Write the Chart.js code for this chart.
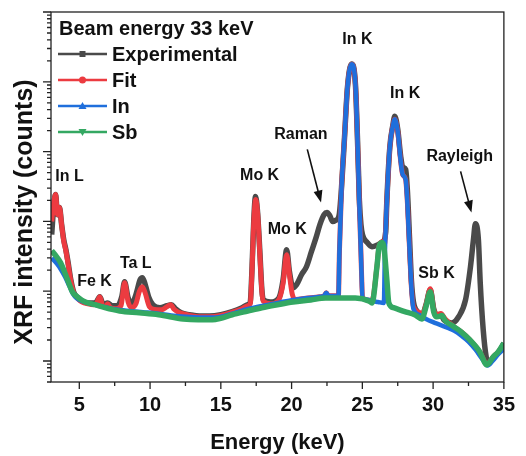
<!DOCTYPE html>
<html><head><meta charset="utf-8">
<script src="https://cdn.jsdelivr.net/npm/chart.js@4.4.1/dist/chart.umd.min.js"></script>
<style>html,body{margin:0;padding:0;background:#fff;}</style>
</head><body>
<canvas id="c" width="526" height="456"></canvas>
<script>
// ---- data (x in keV, y in counts) ----
const expX = [3.05,3.2,3.33,3.45,3.6,3.75,3.9,4.05,4.2,4.4,4.6,4.9,5.2,5.6,6.0,6.2,6.45,6.7,7.0,7.3,7.7,8.0,8.2,8.45,8.7,9.0,9.3,9.45,9.6,9.9,10.2,10.7,11.2,11.5,11.8,12.2,12.8,13.5,14.2,15.0,15.8,16.5,16.9,17.08,17.2,17.33,17.45,17.58,17.75,17.9,18.0,18.5,19.1,19.4,19.65,19.85,20.1,20.35,20.7,21.05,21.4,21.75,22.0,22.3,22.5,22.7,22.9,23.1,23.3,23.38,23.53,23.74,23.95,24.24,24.51,24.65,24.79,24.9,25.01,25.35,25.68,26.1,26.45,26.65,26.73,26.94,27.15,27.29,27.5,27.71,27.85,28.06,28.19,28.33,28.47,28.61,28.8,29.2,29.5,29.8,30.05,30.28,30.55,30.76,31.32,31.8,32.29,32.64,32.85,32.99,33.2,33.33,33.54,33.75,33.89,34.3,34.65,35.0];
const expY = [646,1740,2430,1250,1580,900,548,394,264,146,98,80,72,68,68,70,83,64,68,62,62,83,136,80,66,89,146,156,136,83,64,58,62,64,56,49,46,44,44,46,51,58,64,70,203,1060,2270,1480,394,105,75,70,80,146,394,190,112,124,172,224,368,605,900,1253,1337,1210,994,1030,1120,1300,3100,16000,84000,180000,93000,16500,2000,900,646,496,435,464,513,700,1950,11500,23500,32000,21000,8500,6000,5550,2600,600,140,70,54,45,64,105,55,46,46,39,35,43,75,224,548,929,548,132,28,11.4,9.4,11.5,13.5,18];

const fitX = [3.05,3.2,3.33,3.45,3.6,3.75,3.9,4.05,4.2,4.4,4.6,4.9,5.2,5.6,6.0,6.2,6.45,6.65,6.85,7.0,7.2,7.6,7.95,8.2,8.45,8.7,9.0,9.25,9.45,9.65,9.95,10.3,10.8,11.2,11.45,11.7,12.0,12.8,13.5,14.2,15.0,15.8,16.5,16.9,17.08,17.2,17.33,17.47,17.6,17.75,17.9,18.0,18.5,19.1,19.4,19.65,19.85,20.05,20.3,21.0,22.0,22.3,22.45,22.6,23.31,23.38,23.53,23.74,23.95,24.24,24.51,24.65,24.79,24.94,25.01,25.68,26.03,26.18,26.39,26.52,26.59,26.73,26.94,27.15,27.29,27.5,27.71,27.85,28.06,28.19,28.33,28.47,28.61,29.0,29.2,29.5,29.8,30.05,30.25,30.55,30.85,31.46,32.0,32.6,33.3,33.8,34.24,34.6,35.0];
const fitY = [1000,1900,2430,1250,1580,900,520,380,250,140,95,78,70,66,64,66,83,62,60,66,58,56,62,132,70,58,66,100,116,95,60,55,54,60,64,55,50,45,43,43,45,50,56,62,66,190,1000,2056,1300,360,100,72,66,76,130,333,170,90,76,79,83,86,95,86,86,368,3060,16000,83500,179000,92500,16000,1742,190,80,74,224,435,510,450,500,1950,11500,23000,29000,19500,7230,4700,3980,1742,420,112,60,50,44,64,108,54,46,48,40,31,26,20,13.5,9,11.4,13.5,17];

const inX = [3.05,3.4,3.7,4.0,4.3,4.55,4.8,5.2,5.8,6.5,7.5,8.5,9.5,10.5,11.5,12.5,13.5,14.5,15.2,16.0,17.0,18.0,19.0,20.0,21.0,22.0,22.3,22.45,22.6,23.0,23.31,23.38,23.53,23.74,23.95,24.24,24.51,24.65,24.79,24.94,25.01,25.3,25.7,26.1,26.52,26.59,26.73,26.94,27.15,27.29,27.5,27.71,27.85,28.06,28.19,28.33,28.47,28.61,29.0,29.5,30.0,30.5,31.0,31.5,32.0,32.5,33.0,33.5,33.85,34.2,34.6,35.0];
const inY = [300,250,205,160,118,92,80,72,66,61,55,52,50,48,45,43,42,42,44,49,56,62,68,74,79,83,86,95,86,85,85,368,3060,16000,83500,179000,92500,16000,1742,190,78,76,72,70,68,333,1923,11500,23000,29000,19500,7230,4700,3980,1742,420,112,56,46,40,36,33,30,27,23,19,14.5,10.5,8.6,10,12.5,15];

const sbX = [3.05,3.3,3.68,4.17,4.51,4.86,5.42,6.11,6.81,7.85,9.24,10.6,12.35,13.4,14.4,15.0,15.8,16.9,17.9,19.0,20.1,21.35,22.4,23.4,24.5,25.5,25.68,26.03,26.18,26.39,26.52,26.73,26.87,27.2,28.0,28.7,29.2,29.5,29.8,30.05,30.25,30.5,30.62,30.85,31.46,32.0,32.6,33.3,33.8,34.24,34.6,35.0];
const sbY = [380,330,256,146,98,83,70,64,58,52,49,46,40,39,39,41,46,52,58,64,70,75,80,80,80,72,68,224,435,500,435,146,68,58,51,46,40,60,98,50,43,44,45,38,31,26,20,13.5,8.8,11.4,13.5,18];

const seriesNames = ['Experimental','Fit','In','Sb'];
const seriesColors = ['#4a4a4a','#ec3b40','#1f6fdc','#34a862'];
const legendTitle = 'Beam energy 33 keV';
const xTitle = 'Energy (keV)';
const yTitle = 'XRF intensity (counts)';
const xTickLabels = [5,10,15,20,25,30,35];
const annoText = ['In L','Fe K','Ta L','Mo K','Mo K','Raman','In K','In K','Rayleigh','Sb K'];
const annoX = [4.31,6.08,8.99,17.74,19.69,20.66,24.65,28.02,31.88,30.24];
const annoY = [4400,136,248,4550,762,17660,396000,68600,8530,178];
const arrowFromX = [21.11,31.94], arrowFromY = [10760,5200];
const arrowToX = [22.08,32.71], arrowToY = [1862,1337];

const FONT = "'Liberation Sans', Arial, sans-serif";
const pts = (xs, ys) => xs.map((x, i) => ({x, y: ys[i]}));

const decor = {
  id: 'decor',
  afterDraw(chart) {
    const {ctx, chartArea: ca, scales: {x, y}} = chart;
    ctx.save();
    // frame
    ctx.strokeStyle = '#222'; ctx.lineWidth = 1.3;
    ctx.strokeRect(ca.left, ca.top, ca.right - ca.left, ca.bottom - ca.top);
    // x ticks
    ctx.beginPath();
    for (let i = 0; i < xTickLabels.length; i++) {
      const px = x.getPixelForValue(xTickLabels[i]);
      ctx.moveTo(px, ca.bottom); ctx.lineTo(px, ca.bottom + 7);
      if (i > 0) {
        const m = x.getPixelForValue((xTickLabels[i] + xTickLabels[i-1]) / 2);
        ctx.moveTo(m, ca.bottom); ctx.lineTo(m, ca.bottom + 4);
      }
    }
    // y ticks (log)
    for (let n = 0; n <= 6; n++) {
      for (let k = 1; k <= 9; k++) {
        const v = k * Math.pow(10, n);
        if (v < y.min || v > y.max) continue;
        const py = y.getPixelForValue(v);
        ctx.moveTo(ca.left, py); ctx.lineTo(ca.left - (k === 1 ? 8 : 4), py);
      }
    }
    ctx.stroke();
    // y axis title
    ctx.fillStyle = '#111';
    ctx.save();
    ctx.translate(25, (ca.top + ca.bottom) / 2 + 15);
    ctx.rotate(-Math.PI / 2);
    ctx.font = 'bold 25px ' + FONT;
    ctx.textAlign = 'center'; ctx.textBaseline = 'middle';
    ctx.fillText(yTitle, 0, 0);
    ctx.restore();
    // annotations
    ctx.font = 'bold 16px ' + FONT;
    ctx.textAlign = 'center'; ctx.textBaseline = 'middle';
    annoText.forEach((t, i) => ctx.fillText(t, x.getPixelForValue(annoX[i]), y.getPixelForValue(annoY[i])));
    // arrows
    ctx.strokeStyle = '#111'; ctx.lineWidth = 1.6;
    for (let i = 0; i < arrowFromX.length; i++) {
      const x0 = x.getPixelForValue(arrowFromX[i]), y0 = y.getPixelForValue(arrowFromY[i]);
      const x1 = x.getPixelForValue(arrowToX[i]), y1 = y.getPixelForValue(arrowToY[i]);
      const a = Math.atan2(y1 - y0, x1 - x0);
      ctx.beginPath(); ctx.moveTo(x0, y0);
      ctx.lineTo(x1 - 8 * Math.cos(a), y1 - 8 * Math.sin(a)); ctx.stroke();
      ctx.beginPath(); ctx.moveTo(x1, y1);
      ctx.lineTo(x1 - 12 * Math.cos(a) + 4.5 * Math.sin(a), y1 - 12 * Math.sin(a) - 4.5 * Math.cos(a));
      ctx.lineTo(x1 - 12 * Math.cos(a) - 4.5 * Math.sin(a), y1 - 12 * Math.sin(a) + 4.5 * Math.cos(a));
      ctx.closePath(); ctx.fill();
    }
    // legend
    const lx = ca.left + 7, ly = ca.top + 17;
    ctx.textAlign = 'left'; ctx.fillStyle = '#111';
    ctx.font = 'bold 20px ' + FONT;
    ctx.fillText(legendTitle, ca.left + 8, ly);
    seriesNames.forEach((name, i) => {
      const ry = ly + 25 + i * 26;
      ctx.strokeStyle = seriesColors[i]; ctx.lineWidth = 2.5;
      ctx.beginPath(); ctx.moveTo(lx, ry); ctx.lineTo(lx + 49, ry); ctx.stroke();
      ctx.fillStyle = seriesColors[i];
      const cx = lx + 24.5;
      ctx.beginPath();
      if (i === 0) ctx.rect(cx - 3, ry - 3, 6, 6);
      else if (i === 1) ctx.arc(cx, ry, 3.5, 0, Math.PI * 2);
      else if (i === 2) { ctx.moveTo(cx, ry - 4); ctx.lineTo(cx + 4, ry + 3); ctx.lineTo(cx - 4, ry + 3); ctx.closePath(); }
      else { ctx.moveTo(cx, ry + 4); ctx.lineTo(cx + 4, ry - 3); ctx.lineTo(cx - 4, ry - 3); ctx.closePath(); }
      ctx.fill();
      ctx.fillStyle = '#111';
      ctx.fillText(name, lx + 54, ry + 1);
    });
    ctx.restore();
  }
};

const ds = (i, xs, ys, w, order) => ({
  label: seriesNames[i], data: pts(xs, ys), borderColor: seriesColors[i], backgroundColor: seriesColors[i],
  borderWidth: w, pointRadius: 0, cubicInterpolationMode: 'monotone', order, fill: false
});

new Chart(document.getElementById('c'), {
  type: 'line',
  data: { datasets: [
    ds(0, expX, expY, 5.5, 4),
    ds(1, fitX, fitY, 5, 3),
    ds(2, inX, inY, 4.5, 2),
    ds(3, sbX, sbY, 5.5, 1)
  ]},
  options: {
    responsive: false, animation: false, devicePixelRatio: 1,
    layout: { padding: { top: 12, right: 18, left: 0, bottom: 0 } },
    plugins: { legend: { display: false }, tooltip: { enabled: false } },
    scales: {
      x: {
        type: 'linear', min: 3, max: 35,
        afterBuildTicks: s => { s.ticks = xTickLabels.map(v => ({ value: v })); },
        afterFit: s => { s.height = 74; },
        grid: { display: false, drawTicks: false }, border: { display: false },
        ticks: { color: '#111', padding: 11, maxRotation: 0, font: { family: FONT, size: 20, weight: 'bold' } },
        title: { display: true, text: xTitle, color: '#111', padding: { top: 0, bottom: 0 }, font: { family: FONT, size: 22, weight: 'bold' } }
      },
      y: {
        type: 'logarithmic', min: 5, max: 1e6,
        afterFit: s => { s.width = 51; },
        grid: { display: false, drawTicks: false }, border: { display: false },
        ticks: { display: false },
        title: { display: false }
      }
    }
  },
  plugins: [decor]
});
</script>
</body></html>
